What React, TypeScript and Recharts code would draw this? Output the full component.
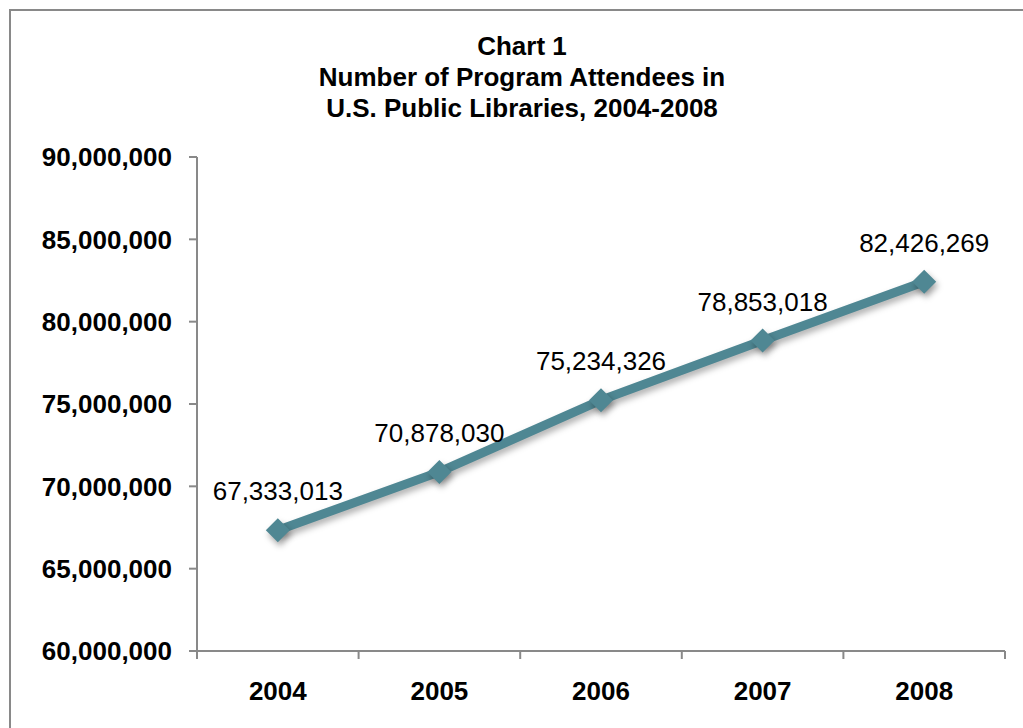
import { LineChart, Line, XAxis, YAxis, LabelList } from "recharts";

const years = ["2004", "2005", "2006", "2007", "2008"];
const attendees = [67333013, 70878030, 75234326, 78853018, 82426269];
const yTicks = [60000000, 65000000, 70000000, 75000000, 80000000, 85000000, 90000000];
const titleLines = ["Chart 1", "Number of Program Attendees in", "U.S. Public Libraries, 2004-2008"];

// slot boundaries 0..5, labels sit in the middle of each slot
const xTicks = [0, 0.5, 1, 1.5, 2, 2.5, 3, 3.5, 4, 4.5, 5];

const data = years.map((year, i) => ({ year, pos: i + 0.5, value: attendees[i] }));

const FONT = "Arial, 'Liberation Sans', sans-serif";
const AXIS_GRAY = "#898989";
const LINE_COLOR = "#4F8793";

const fmt = (v: number) => v.toLocaleString("en-US");

function YearTick(props: any) {
  const { x, y, payload } = props;
  const v = payload.value as number;
  if (Number.isInteger(v)) {
    return <line x1={x} y1={y} x2={x} y2={y + 8} stroke={AXIS_GRAY} strokeWidth={2} />;
  }
  const label = years[Math.floor(v)];
  return (
    <text x={x} y={y + 49} textAnchor="middle" fontFamily={FONT} fontSize={26} fontWeight="bold" fill="#000">
      {label}
    </text>
  );
}

function Diamond(props: any) {
  const { cx, cy, index } = props;
  const r = 12;
  return (
    <path
      key={`d-${index}`}
      className="diamond-dot"
      d={`M${cx},${cy - r} L${cx + r},${cy} L${cx},${cy + r} L${cx - r},${cy} Z`}
      fill={LINE_COLOR}
    />
  );
}

export default function App() {
  return (
    <div style={{ position: "fixed", left: 0, top: 0, width: 1023, height: 728, overflow: "hidden", background: "#fff" }}>
      <style>{`
        .recharts-line-curve { filter: drop-shadow(2px 4px 3px rgba(0,0,0,0.3)); }
        .diamond-dot { filter: drop-shadow(2px 4px 3px rgba(0,0,0,0.35)); }
      `}</style>
      <div
        style={{
          position: "absolute",
          left: 9,
          top: 9,
          width: 1040,
          height: 740,
          border: `2px solid ${AXIS_GRAY}`,
          boxSizing: "border-box",
        }}
      />
      <div
        style={{
          position: "absolute",
          left: 22,
          top: 30.5,
          width: 1000,
          textAlign: "center",
          fontFamily: FONT,
          fontWeight: "bold",
          fontSize: 26,
          lineHeight: "31px",
          color: "#000",
        }}
      >
        {titleLines.map((t) => (
          <div key={t}>{t}</div>
        ))}
      </div>
      <div style={{ position: "absolute", left: 0, top: 0 }}>
        <LineChart width={1023} height={728} data={data} margin={{ top: 157, right: 18, bottom: 0, left: 0 }}>
          <XAxis
            dataKey="pos"
            type="number"
            domain={[0, 5]}
            ticks={xTicks}
            interval={0}
            tickSize={0}
            tickMargin={0}
            tickLine={false}
            tick={<YearTick />}
            height={77}
            axisLine={{ stroke: AXIS_GRAY, strokeWidth: 2 }}
          />
          <YAxis
            type="number"
            domain={[60000000, 90000000]}
            ticks={yTicks}
            interval={0}
            width={197}
            tickSize={8}
            tickMargin={17}
            tickFormatter={fmt}
            tick={{ fontFamily: FONT, fontSize: 26, fontWeight: "bold", fill: "#000" }}
            tickLine={{ stroke: AXIS_GRAY, strokeWidth: 2 }}
            axisLine={{ stroke: AXIS_GRAY, strokeWidth: 2 }}
          />
          <Line
            dataKey="value"
            stroke={LINE_COLOR}
            strokeWidth={9}
            type="linear"
            dot={Diamond}
            activeDot={false}
            isAnimationActive={false}
          >
            <LabelList
              dataKey="value"
              position="top"
              offset={30}
              formatter={(v: any) => fmt(Number(v))}
              style={{ fontFamily: FONT, fontSize: 26, fill: "#000" }}
            />
          </Line>
        </LineChart>
      </div>
    </div>
  );
}
